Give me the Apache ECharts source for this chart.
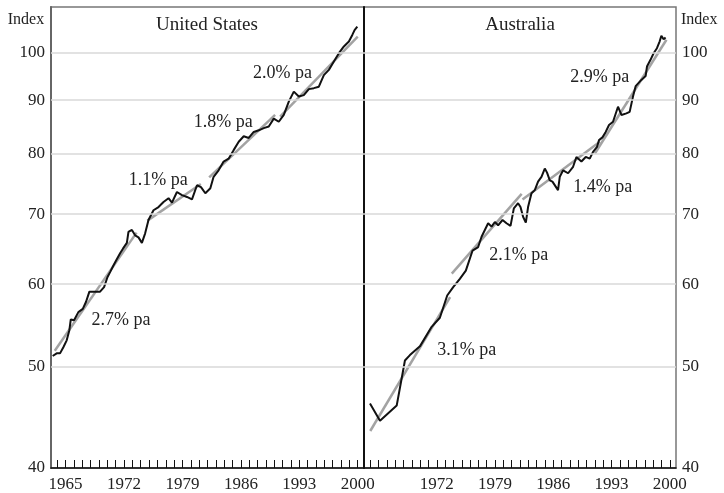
<!DOCTYPE html>
<html>
<head>
<meta charset="utf-8">
<script src="https://cdn.jsdelivr.net/npm/echarts@6/dist/echarts.min.js"></script>
<style>
html, body { margin: 0; padding: 0; background: #fff; }
#chart { width: 724px; height: 493px; }
</style>
</head>
<body>
<div id="chart"></div>
<script>
// US index (quarterly-ish)
var usYears = [1963.45,1963.93,1964.33,1964.73,1965.13,1965.45,1965.62,1966.01,1966.53,1967.06,1967.45,1967.85,1968.33,1969.13,1969.61,1970.01,1970.33,1970.73,1971.05,1971.53,1971.89,1972.34,1972.53,1972.94,1973.33,1973.73,1974.14,1974.53,1974.93,1975.53,1976.13,1976.73,1977.33,1977.74,1978.34,1978.94,1979.54,1980.14,1980.74,1981.22,1981.74,1982.34,1982.73,1983.33,1983.93,1984.53,1985.13,1985.74,1986.34,1986.94,1987.54,1988.14,1988.74,1989.34,1989.94,1990.54,1991.14,1991.74,1992.34,1992.94,1993.54,1994.14,1994.74,1995.34,1995.94,1996.54,1997.14,1997.74,1998.34,1998.94,1999.35,1999.62,1999.95];
var usIndex = [51.2,51.5,51.5,52.2,53.0,54.2,55.5,55.4,56.4,56.8,57.7,59.0,59.0,59.0,59.6,60.9,61.6,62.5,63.2,64.2,64.9,65.7,67.3,67.6,66.8,66.5,65.7,67.1,69.1,70.6,71.1,71.9,72.5,71.8,73.5,73.0,72.7,72.3,74.6,74.3,73.3,74.1,76.0,77.1,78.6,79.1,80.6,82.1,83.1,82.8,83.9,84.2,84.6,84.9,86.4,85.8,87.1,89.7,91.7,90.7,91.0,92.2,92.4,92.7,95.1,96.2,98.0,99.8,101.3,102.4,103.9,105.0,105.8];

// Australia index
var auYears = [1963.97,1965.17,1967.18,1968.17,1968.77,1969.97,1971.38,1972.37,1973.25,1973.97,1974.77,1975.49,1976.3,1976.97,1977.38,1978.17,1978.58,1978.98,1979.37,1979.9,1980.38,1980.86,1981.26,1981.77,1982.06,1982.37,1982.7,1982.97,1983.38,1983.78,1984.17,1984.58,1984.98,1985.25,1985.58,1985.9,1986.57,1986.78,1987.18,1987.78,1988.38,1988.78,1989.38,1989.9,1990.38,1990.78,1991.26,1991.5,1991.91,1992.3,1992.7,1993.18,1993.78,1994.19,1994.79,1995.18,1995.58,1995.9,1996.59,1997.1,1997.26,1997.67,1998.06,1998.46,1998.78,1998.99,1999.26,1999.5];
var auIndex = [46.1,44.4,45.9,50.7,51.3,52.3,54.6,55.7,58.5,59.6,60.7,61.8,64.6,65.1,66.6,68.6,68.1,68.8,68.3,69.1,68.6,68.2,70.9,71.7,71.1,69.6,68.7,71.1,73.3,73.8,75.2,76.0,77.4,76.7,75.4,75.2,73.8,76.0,77.1,76.6,77.7,79.4,78.6,79.4,79.1,80.3,81.2,82.4,82.9,83.9,85.2,85.8,88.7,87.1,87.4,87.7,90.7,92.8,94.1,94.9,96.9,98.3,99.8,100.9,102.4,103.7,102.9,103.3];

// trend segments: [start, end]
var usTrendYears = [[1963.7,1973.5],[1974.8,1981.2],[1982.2,1990.1],[1990.7,2000.0]];
var usTrendIndex = [[51.8,67.2],[69.0,74.8],[75.9,87.1],[86.8,103.5]];
var usTrendText = ['2.7% pa','1.1% pa','1.8% pa','2.0% pa'];

var auTrendYears = [[1964.0,1973.6],[1973.8,1982.2],[1982.3,1991.6],[1991.0,1999.6]];
var auTrendIndex = [[43.4,58.3],[61.4,73.2],[72.3,82.1],[80.0,102.8]];
var auTrendText = ['3.1% pa','2.1% pa','1.4% pa','2.9% pa'];

// axis ticks
var gridValues = [40,50,60,70,80,90,100];
var usLabelYears = [1965,1972,1979,1986,1993,2000];
var auLabelYears = [1972,1979,1986,1993,2000];
var tickYears = [];
for (var y = 1964; y <= 2000; y++) tickYears.push(y);

var FONT = "'Liberation Serif', 'Times New Roman', serif";

function pairs(xs, ys) {
    var out = [];
    for (var i = 0; i < xs.length; i++) out.push([xs[i], ys[i]]);
    return out;
}

function xAxisFor(idx, labels) {
    return {
        type: 'value', gridIndex: idx, min: 1963.25, max: 2000.75,
        axisLine: { lineStyle: { color: '#111', width: 1.5 } },
        axisTick: { inside: true, length: 8, customValues: tickYears, lineStyle: { color: '#111', width: 1 } },
        axisLabel: {
            customValues: labels, margin: 8, color: '#222', fontSize: 17, fontFamily: FONT,
            formatter: function (v) { return String(v); }
        },
        splitLine: { show: false }
    };
}

function yAxisFor(idx, lineColor) {
    return {
        type: 'log', logBase: 10, gridIndex: idx, min: 40, max: 110.5, position: 'left',
        axisLine: { show: true, lineStyle: { color: lineColor, width: 2 } },
        axisTick: { show: false },
        axisLabel: { show: false },
        splitLine: { show: false }
    };
}

// gridlines + value labels drawn as mark lines
function gridSeries(idx, side) {
    return {
        type: 'line', xAxisIndex: idx, yAxisIndex: idx, data: [], z: 1,
        markLine: {
            silent: true, animation: false, symbol: ['none', 'none'],
            lineStyle: { color: '#d9d9d9', width: 1.5, type: 'solid' },
            label: {
                position: side, distance: 6, formatter: '{c}',
                color: '#222', fontSize: 17, fontFamily: FONT
            },
            data: gridValues.map(function (v) {
                var d = { yAxis: v };
                if (v === 40) d.lineStyle = { color: 'rgba(0,0,0,0)' };
                return d;
            })
        }
    };
}

function trendSeries(idx, years, vals, texts, anchors) {
    return years.map(function (yr, i) {
        return {
            type: 'line', xAxisIndex: idx, yAxisIndex: idx, z: 2,
            showSymbol: false, silent: true, animation: false,
            lineStyle: { color: '#a3a3a3', width: 2.5 },
            data: [[yr[0], vals[i][0]], [yr[1], vals[i][1]]],
            markPoint: {
                symbol: 'circle', symbolSize: 0, animation: false,
                label: { show: true, position: 'inside', formatter: texts[i], color: '#222', fontSize: 18, fontFamily: FONT },
                data: [{ coord: anchors[i] }]
            }
        };
    });
}

var myChart = echarts.init(document.getElementById('chart'));

var series = [
    gridSeries(0, 'start'),
    gridSeries(1, 'end')
];
series = series.concat(trendSeries(0, usTrendYears, usTrendIndex, usTrendText,
    [[1971.65, 55.4], [1976.1, 75.5], [1983.9, 85.8], [1990.98, 95.5]]));
series = series.concat(trendSeries(1, auTrendYears, auTrendIndex, auTrendText,
    [[1975.61, 51.9], [1981.86, 64.0], [1991.94, 74.3], [1991.58, 94.7]]));
series.push({
    name: 'United States', type: 'line', xAxisIndex: 0, yAxisIndex: 0, z: 3,
    showSymbol: false, animation: false,
    lineStyle: { color: '#111', width: 2 },
    data: pairs(usYears, usIndex)
});
series.push({
    name: 'Australia', type: 'line', xAxisIndex: 1, yAxisIndex: 1, z: 3,
    showSymbol: false, animation: false,
    lineStyle: { color: '#111', width: 2 },
    data: pairs(auYears, auIndex)
});

option = {
    backgroundColor: '#fff',
    animation: false,
    grid: [
        { left: 51, right: 360, top: 7, bottom: 25, show: true, borderColor: '#777', borderWidth: 1.5 },
        { left: 364, right: 48, top: 7, bottom: 25, show: true, borderColor: '#777', borderWidth: 1.5 }
    ],
    xAxis: [xAxisFor(0, usLabelYears), xAxisFor(1, auLabelYears)],
    yAxis: [yAxisFor(0, '#666'), yAxisFor(1, '#111')],
    graphic: [
        { type: 'text', x: 207, y: 25, style: { text: 'United States', font: '19px ' + FONT, fill: '#222', textAlign: 'center', textVerticalAlign: 'middle' } },
        { type: 'text', x: 520, y: 25, style: { text: 'Australia', font: '19px ' + FONT, fill: '#222', textAlign: 'center', textVerticalAlign: 'middle' } },
        { type: 'text', x: 26, y: 20, style: { text: 'Index', font: '16px ' + FONT, fill: '#222', textAlign: 'center', textVerticalAlign: 'middle' } },
        { type: 'text', x: 681, y: 20, style: { text: 'Index', font: '16px ' + FONT, fill: '#222', textAlign: 'left', textVerticalAlign: 'middle' } }
    ],
    series: series
};
myChart.setOption(option);
</script>
</body>
</html>
